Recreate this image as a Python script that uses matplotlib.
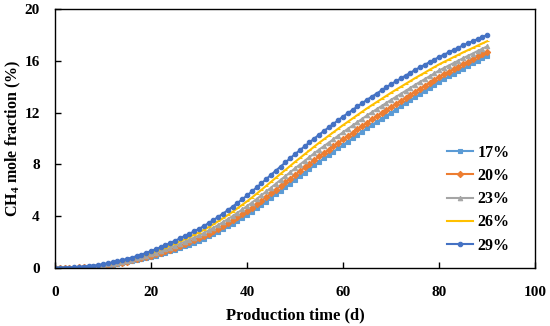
import numpy as np
import matplotlib.pyplot as plt

# production time, days
days = list(range(0, 91))

# CH4 mole fraction (%), one value per day
ch4_17 = [0.00, 0.00, 0.01, 0.01, 0.02, 0.03, 0.04, 0.06, 0.08, 0.11, 0.15,
          0.20, 0.25, 0.31, 0.38, 0.45, 0.52, 0.60, 0.68, 0.76, 0.85,
          0.95, 1.06, 1.17, 1.28, 1.40, 1.53, 1.67, 1.81, 1.95, 2.10,
          2.27, 2.44, 2.62, 2.81, 3.00, 3.21, 3.42, 3.64, 3.87, 4.10,
          4.35, 4.61, 4.87, 5.13, 5.40, 5.68, 5.96, 6.24, 6.52, 6.80,
          7.08, 7.36, 7.64, 7.92, 8.20, 8.46, 8.72, 8.98, 9.24, 9.50,
          9.76, 10.02, 10.28, 10.54, 10.80, 11.04, 11.28, 11.52, 11.76, 12.00,
          12.24, 12.48, 12.72, 12.96, 13.20, 13.44, 13.68, 13.92, 14.16, 14.40,
          14.60, 14.80, 15.00, 15.20, 15.40, 15.60, 15.80, 16.00, 16.20, 16.40]
ch4_20 = [0.00, 0.00, 0.01, 0.01, 0.03, 0.04, 0.05, 0.08, 0.10, 0.13, 0.18,
          0.23, 0.29, 0.35, 0.42, 0.50, 0.58, 0.66, 0.75, 0.84, 0.94,
          1.05, 1.17, 1.29, 1.41, 1.54, 1.68, 1.83, 1.98, 2.13, 2.28,
          2.46, 2.64, 2.84, 3.04, 3.24, 3.46, 3.68, 3.92, 4.16, 4.40,
          4.66, 4.93, 5.20, 5.48, 5.76, 6.05, 6.34, 6.62, 6.91, 7.20,
          7.48, 7.77, 8.05, 8.34, 8.62, 8.88, 9.15, 9.41, 9.68, 9.94,
          10.20, 10.46, 10.72, 10.98, 11.24, 11.48, 11.72, 11.96, 12.20, 12.44,
          12.68, 12.91, 13.15, 13.38, 13.62, 13.85, 14.08, 14.32, 14.55, 14.78,
          14.98, 15.17, 15.37, 15.56, 15.76, 15.95, 16.14, 16.34, 16.53, 16.72]
ch4_23 = [0.00, 0.00, 0.01, 0.02, 0.03, 0.05, 0.07, 0.10, 0.13, 0.16, 0.22,
          0.27, 0.33, 0.40, 0.48, 0.56, 0.65, 0.74, 0.84, 0.94, 1.05,
          1.18, 1.30, 1.44, 1.57, 1.72, 1.87, 2.03, 2.19, 2.35, 2.51,
          2.71, 2.90, 3.11, 3.32, 3.54, 3.78, 4.01, 4.26, 4.52, 4.78,
          5.05, 5.33, 5.62, 5.91, 6.21, 6.51, 6.81, 7.10, 7.40, 7.70,
          7.99, 8.28, 8.57, 8.86, 9.15, 9.41, 9.68, 9.95, 10.22, 10.49,
          10.75, 11.01, 11.27, 11.53, 11.79, 12.03, 12.27, 12.51, 12.75, 12.99,
          13.22, 13.45, 13.68, 13.91, 14.15, 14.37, 14.59, 14.81, 15.03, 15.26,
          15.45, 15.64, 15.83, 16.02, 16.21, 16.39, 16.57, 16.76, 16.94, 17.12]
ch4_26 = [0.00, 0.01, 0.02, 0.02, 0.04, 0.06, 0.08, 0.12, 0.15, 0.19, 0.26,
          0.31, 0.38, 0.45, 0.53, 0.63, 0.72, 0.82, 0.93, 1.04, 1.17,
          1.30, 1.44, 1.58, 1.74, 1.89, 2.06, 2.22, 2.40, 2.57, 2.74,
          2.95, 3.15, 3.38, 3.61, 3.84, 4.09, 4.34, 4.61, 4.88, 5.15,
          5.44, 5.74, 6.04, 6.35, 6.66, 6.97, 7.28, 7.58, 7.89, 8.20,
          8.49, 8.79, 9.08, 9.38, 9.67, 9.94, 10.22, 10.49, 10.77, 11.04,
          11.30, 11.56, 11.82, 12.08, 12.34, 12.58, 12.82, 13.06, 13.30, 13.54,
          13.77, 13.99, 14.22, 14.44, 14.67, 14.88, 15.09, 15.31, 15.52, 15.73,
          15.92, 16.10, 16.29, 16.47, 16.66, 16.83, 17.00, 17.18, 17.35, 17.52]
ch4_29 = [0.00, 0.01, 0.02, 0.03, 0.05, 0.07, 0.10, 0.14, 0.18, 0.23, 0.30,
          0.36, 0.43, 0.51, 0.60, 0.70, 0.80, 0.91, 1.03, 1.16, 1.30,
          1.45, 1.60, 1.76, 1.93, 2.10, 2.28, 2.46, 2.65, 2.83, 3.02,
          3.24, 3.46, 3.70, 3.95, 4.20, 4.47, 4.74, 5.02, 5.31, 5.60,
          5.91, 6.22, 6.54, 6.87, 7.20, 7.52, 7.84, 8.16, 8.48, 8.80,
          9.10, 9.40, 9.70, 10.00, 10.30, 10.58, 10.86, 11.14, 11.42, 11.70,
          11.96, 12.22, 12.48, 12.74, 13.00, 13.24, 13.48, 13.72, 13.96, 14.20,
          14.42, 14.64, 14.86, 15.08, 15.30, 15.50, 15.70, 15.90, 16.10, 16.30,
          16.48, 16.66, 16.84, 17.02, 17.20, 17.36, 17.52, 17.68, 17.84, 18.00]

labels = ['17%', '20%', '23%', '26%', '29%']
series = [ch4_17, ch4_20, ch4_23, ch4_26, ch4_29]
colors = ['#5B9BD5', '#ED7D31', '#A5A5A5', '#FFC000', '#4472C4']
markers = ['s', 'D', '^', '_', 'o']

plt.rcParams['font.family'] = ['Liberation Serif', 'DejaVu Serif']
plt.rcParams['mathtext.fontset'] = 'custom'
plt.rcParams['mathtext.rm'] = 'Liberation Serif:bold'
plt.rcParams['mathtext.bf'] = 'Liberation Serif:bold'

fig = plt.figure(figsize=(5.5, 3.26), dpi=100)
ax = fig.add_axes([0.1, 0.178, 0.873, 0.794])

for vals, lab, c, m in zip(series, labels, colors, markers):
    ax.plot(days, vals, color=c, marker=m, markersize=3.2, linewidth=1.5,
            markeredgewidth=0.8, label=lab)

ax.set_xlim(0, 100)
ax.set_ylim(0, 20)
ax.set_xticks(np.arange(0, 101, 20))
ax.set_yticks(np.arange(0, 21, 4))
ax.tick_params(direction='in', length=4, width=1, labelsize=11)
ax.tick_params(axis='x', pad=13)
ax.tick_params(axis='y', pad=11)
for lbl in ax.get_xticklabels() + ax.get_yticklabels():
    lbl.set_fontweight('bold')
for sp in ax.spines.values():
    sp.set_linewidth(1.0)
    sp.set_color('black')

ax.set_xlabel('Production time (d)', fontsize=12, fontweight='bold', labelpad=6)
ax.set_ylabel(r'CH$_\mathbf{4}$ mole fraction (%)', fontsize=11.5, fontweight='bold', labelpad=1)

ax.legend(loc='lower right', bbox_to_anchor=(0.977, 0.0), frameon=False,
          prop={'weight': 'bold', 'size': 11.5},
          handlelength=1.6, handletextpad=0.3, labelspacing=0.45)

fig.savefig('out.png', dpi=100)
